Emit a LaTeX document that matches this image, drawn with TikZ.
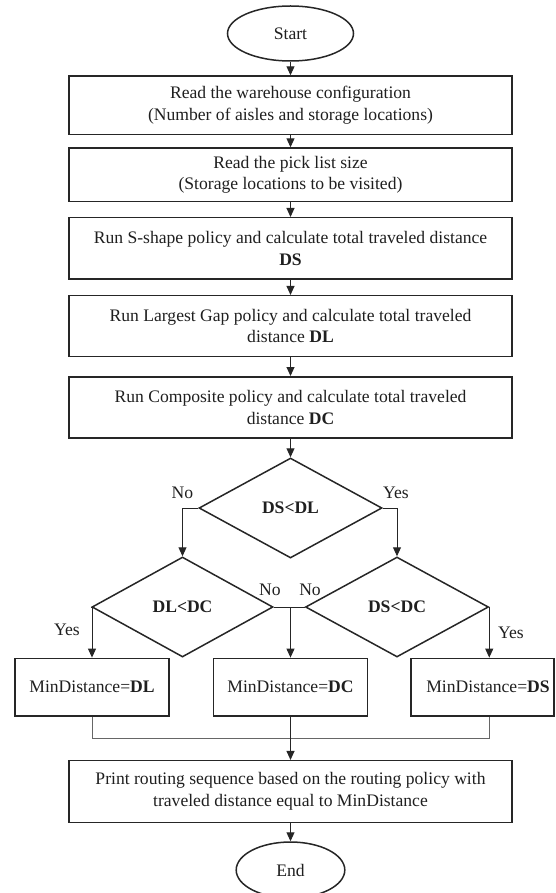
\documentclass[tikz,border=0pt]{standalone}
\usepackage{fontspec}
\setmainfont{Liberation Serif}
\usetikzlibrary{shapes.geometric,arrows.meta}
\begin{document}
\begin{tikzpicture}[x=1pt,y=-1pt,
  every node/.style={font=\fontsize{17.6}{21.5}\selectfont, text=black!88, inner sep=0pt},
  procbox/.style={draw=black!85, line width=1.5pt, rectangle, minimum width=443pt, align=center},
  term/.style={draw=black!85, line width=1.5pt, ellipse},
  decide/.style={draw=black!85, line width=1.5pt, diamond, inner sep=0pt,
    font=\fontsize{17.6}{21.5}\selectfont\bfseries, minimum height=100pt},
  resbox/.style={draw=black!85, line width=1.5pt, rectangle, minimum width=154.4pt, minimum height=57.7pt},
  flow/.style={line width=1pt, draw=black!85, -{Triangle[length=9pt,width=8pt]}},
  link/.style={line width=1pt, draw=black!60},
  lbl/.style={font=\fontsize{17.6}{21.5}\selectfont}
]
\useasboundingbox (0,0) rectangle (555,893);

% terminals and process steps
\node[term, minimum width=126pt, minimum height=55pt] (start) at (290.5,33.5) {Start};
\node[procbox, minimum height=58.3pt] (b1) at (290.5,105.2)
  {Read the warehouse configuration\\(Number of aisles and storage locations)};
\node[procbox, minimum height=53.7pt] (b2) at (290.5,174.9)
  {Read the pick list size\\(Storage locations to be visited)};
\node[procbox, minimum height=61.3pt] (b3) at (290.5,248.4)
  {Run S-shape policy and calculate total traveled distance\\\textbf{DS}};
\node[procbox, minimum height=61pt] (b4) at (290.5,326.2)
  {Run Largest Gap policy and calculate total traveled\\distance \textbf{DL}};
\node[procbox, minimum height=61.3pt] (b5) at (290.5,407.4)
  {Run Composite policy and calculate total traveled\\distance \textbf{DC}};

% decisions
\node[decide, minimum width=183pt] (d1) at (290.5,508) {DS<DL};
\node[decide, minimum width=181pt] (d2) at (182.5,607) {DL<DC};
\node[decide, minimum width=183pt] (d3) at (397,607) {DS<DC};

% results
\node[resbox] (rDL) at (92,687.2) {MinDistance=\textbf{DL}};
\node[resbox] (rDC) at (290.5,687.2) {MinDistance=\textbf{DC}};
\node[resbox, minimum width=143.3pt] (rDS) at (482.4,687.2) {\hspace*{11.2pt}MinDistance=\textbf{DS}};

\node[procbox, minimum height=61.6pt] (pr) at (290.5,791.5)
  {Print routing sequence based on the routing policy with\\traveled distance equal to MinDistance};
\node[term, minimum width=108.6pt, minimum height=56pt] (end) at (290.5,870) {End};

% main flow
\draw[flow] (start) -- (b1);
\draw[flow] (b1) -- (b2);
\draw[flow] (b2) -- (b3);
\draw[flow] (b3) -- (b4);
\draw[flow] (b4) -- (b5);
\draw[flow] (b5) -- (d1);

% branches
\draw[flow] (d1.west) -| (d2.north);
\draw[flow] (d1.east) -| (d3.north);
\draw[flow] (d2.west) -| (rDL.north);
\draw[flow] (d3.east) -- (d3.east |- rDS.north);
\draw[line width=1pt, draw=black!85] (d2.east) -- (d3.west);
\draw[flow] (d2.east -| rDC.north) -- (rDC.north);

% merge
\coordinate (m) at (290.5,738.3);
\draw[link] (rDL.south) -- (rDL.south |- m) -- (m -| d3.east) -- (rDS.south -| d3.east);
\draw[flow] (rDC.south) -- (pr.north);
\draw[flow] (pr.south) -- (end.north);

% branch labels
\node[lbl] (n1) at (182.5,493) {No};
\node[lbl] (y1) at (396,493) {Yes};
\node[lbl] (n2) at (270,590) {No};
\node[lbl] (n3) at (310,590) {No};
\node[lbl] (y2) at (67,630) {Yes};
\node[lbl] (y3) at (511,633) {Yes};
\end{tikzpicture}
\end{document}
